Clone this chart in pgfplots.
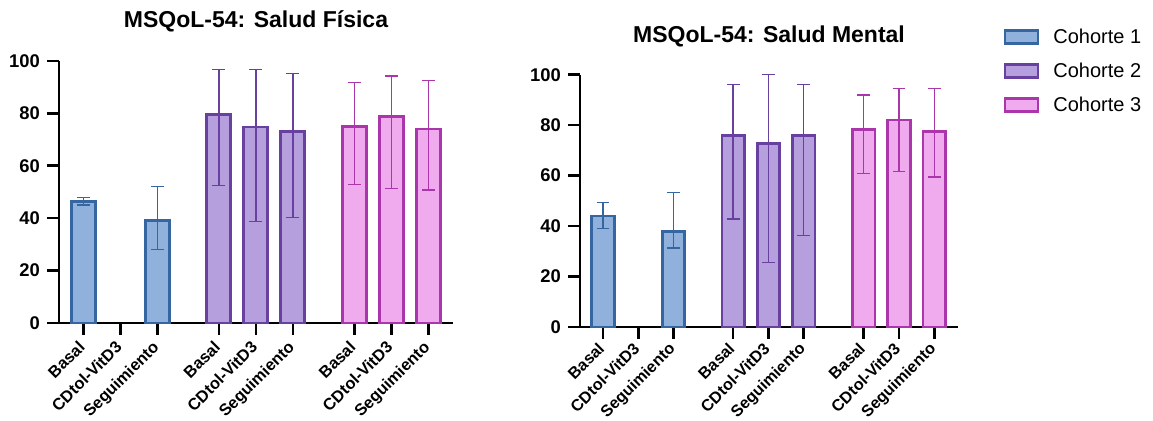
\documentclass[border=0pt]{standalone}
\usepackage{fontspec}
\setmainfont{Liberation Sans}
\usepackage{pgfplots}
\pgfplotsset{compat=1.18}
\definecolor{c1f}{HTML}{8FB1DC}
\definecolor{c1e}{HTML}{3566A2}
\definecolor{c2f}{HTML}{B59FDC}
\definecolor{c2e}{HTML}{6841A0}
\definecolor{c3f}{HTML}{F0AAEE}
\definecolor{c3e}{HTML}{AB35AB}
\pgfplotsset{
 msq/.style={
  scale only axis, anchor=south west,
  ymin=0, ymax=100, ytick={0,20,...,100},
  axis x line*=bottom, axis y line*=left,
  axis line style={line width=1.3pt, black},
  tick style={line width=1.3pt, black},
  major tick length=6pt,
  tick align=outside,
  clip=false,
  /pgf/number format/assume math mode=true,
  yticklabel style={font=\bfseries\fontsize{9.2}{10}\selectfont},
  xticklabels={Basal,CDtol-VitD3,Seguimiento,Basal,CDtol-VitD3,Seguimiento,Basal,CDtol-VitD3,Seguimiento},
  title style={font=\bfseries\fontsize{11.5}{13}\selectfont, anchor=center, at={(0.5,1)}},
 },
 cbar/.style n args={3}{ybar, bar width=#3, bar shift=0pt, draw=#2, fill=#1, line width=1.35pt,
   error bars/.cd, y dir=both, y explicit, error bar style={#2, line width=0.7pt},
   error mark options={rotate=90, mark size=3.2pt, #2, line width=0.7pt}},
}
\begin{document}
\begin{tikzpicture}
\path[use as bounding box] (0,0) rectangle (576.5pt,210.5pt);
\begin{axis}[msq, at={(29.5pt,49pt)}, width=197pt, height=131pt,
  xmin=-0.66, xmax=9.99,
  xtick={0,1,2,3.66,4.66,5.66,7.32,8.32,9.32},
  xticklabel style={font=\bfseries\fontsize{8.2}{9}\selectfont, xshift=-3pt, yshift=-1.5pt, rotate=45, anchor=north east, inner sep=0.5pt},
  title={MSQoL-54: Salud Física}, title style={yshift=14pt}]
\addplot[cbar={c1f}{c1e}{0.65}] coordinates {
  (0,46.5) += (0,1.4) -= (0,1.5)
  (2,39.1) += (0,12.9) -= (0,11.0)};
\addplot[cbar={c2f}{c2e}{0.65}] coordinates {
  (3.66,79.7) += (0,17.0) -= (0,27.3)
  (4.66,74.8) += (0,22.0) -= (0,36.0)
  (5.66,73.2) += (0,22.1) -= (0,33.0)};
\addplot[cbar={c3f}{c3e}{0.65}] coordinates {
  (7.32,74.9) += (0,17.0) -= (0,22.0)
  (8.32,78.7) += (0,15.6) -= (0,27.3)
  (9.32,74.0) += (0,18.5) -= (0,23.2)};
\end{axis}
\begin{axis}[msq, at={(290pt,47pt)}, width=189pt, height=126.15pt,
  xmin=-0.65, xmax=10.06,
  xtick={0,1,2,3.69,4.69,5.69,7.39,8.39,9.39},
  xticklabel style={font=\bfseries\fontsize{8.1}{9}\selectfont, xshift=-3pt, yshift=-0.3pt, rotate=45, anchor=north east, inner sep=0.5pt},
  title={MSQoL-54: Salud Mental}, title style={yshift=13.3pt},
  legend style={at={(rel axis cs:1.12,1.2)}, anchor=north west, draw=none, fill=none,
    font=\fontsize{10}{12}\selectfont, row sep=4.3pt, inner sep=0pt,
    /tikz/every odd column/.append style={column sep=0pt}},
  legend cell align=left]
\addplot[forget plot, cbar={c1f}{c1e}{0.64}] coordinates {
  (0,44.0) += (0,5.4) -= (0,5.0)
  (2,37.9) += (0,15.3) -= (0,6.6)};
\addplot[forget plot, cbar={c2f}{c2e}{0.64}] coordinates {
  (3.69,75.8) += (0,20.2) -= (0,33.0)
  (4.69,72.8) += (0,27.2) -= (0,47.3)
  (5.69,76.0) += (0,20.0) -= (0,39.7)};
\addplot[forget plot, cbar={c3f}{c3e}{0.64}] coordinates {
  (7.39,78.2) += (0,13.8) -= (0,17.3)
  (8.39,82.0) += (0,12.6) -= (0,20.4)
  (9.39,77.6) += (0,17.0) -= (0,18.1)};
\addlegendimage{legend image code/.code={\draw[draw=c1e, fill=c1f, line width=1.3pt] (0pt,-3pt) rectangle (16.5pt,3.5pt);}}
\addlegendentry{\hspace*{5pt}Cohorte 1}
\addlegendimage{legend image code/.code={\draw[draw=c2e, fill=c2f, line width=1.3pt] (0pt,-3pt) rectangle (16.5pt,3.5pt);}}
\addlegendentry{\hspace*{5pt}Cohorte 2}
\addlegendimage{legend image code/.code={\draw[draw=c3e, fill=c3f, line width=1.3pt] (0pt,-3pt) rectangle (16.5pt,3.5pt);}}
\addlegendentry{\hspace*{5pt}Cohorte 3}
\end{axis}
\end{tikzpicture}
\end{document}
